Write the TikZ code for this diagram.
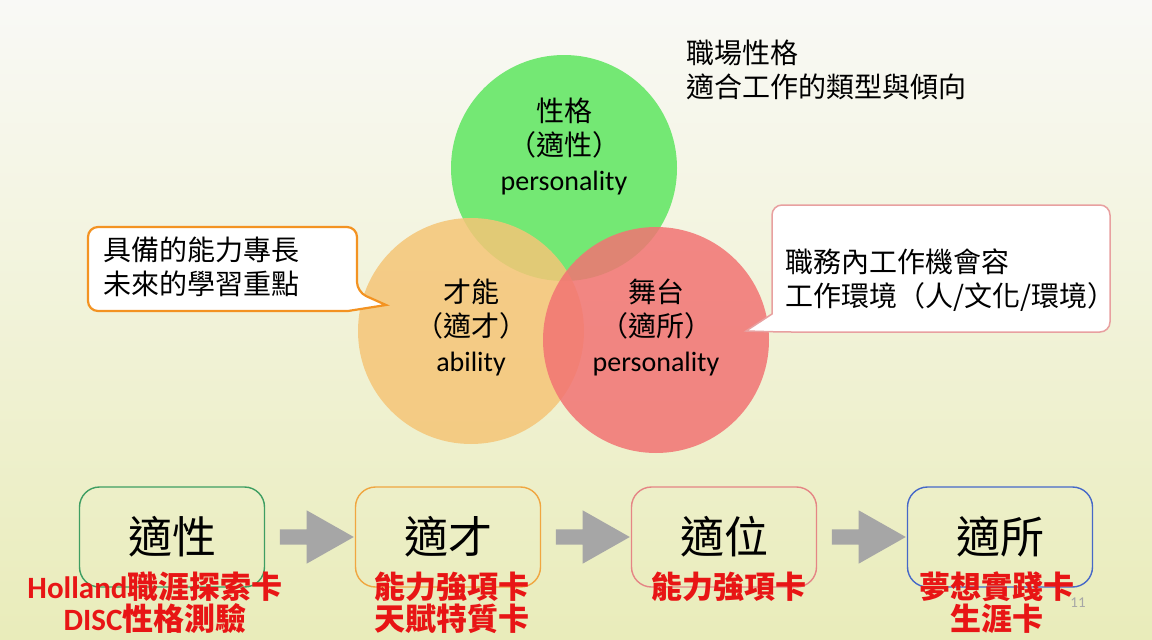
\documentclass[tikz,border=0pt]{standalone}
\usepackage{fontspec}
\setmainfont{Carlito}
\newfontfamily\cjk{Noto Sans CJK TC}
\usetikzlibrary{positioning,calc,shapes.arrows}
\definecolor{bgtop}{HTML}{F9F9F6}
\definecolor{bgmid}{HTML}{F4F4EA}
\definecolor{bgbot}{HTML}{E9ECBA}
\definecolor{ballgreen}{HTML}{74E874}
\definecolor{ballorange}{HTML}{F5C577}
\definecolor{ballred}{HTML}{F27373}
\definecolor{noteorange}{HTML}{F39322}
\definecolor{notered}{HTML}{E8A0A0}
\definecolor{boxgreen}{HTML}{3E9E62}
\definecolor{boxorange}{HTML}{F0A640}
\definecolor{boxred}{HTML}{E58585}
\definecolor{boxblue}{HTML}{4668C8}
\definecolor{cardred}{HTML}{E81515}
\definecolor{arrowgray}{HTML}{A6A6A6}

\begin{document}
\begin{tikzpicture}[x=1pt,y=-1pt,
  ball/.style={circle, minimum size=226pt, inner sep=0pt},
  ctext/.style={align=center, text opacity=1, font=\fontsize{28}{34.5}\selectfont},
  note/.style={align=left, anchor=west, font=\cjk\fontsize{28}{34}\selectfont},
  stagebox/.style={draw, rounded corners=20pt, minimum width=185pt, minimum height=100pt, line width=1.4pt, font=\cjk\fontsize{44}{50}\selectfont},
  cards/.style={align=center, text=cardred, font=\bfseries\fontsize{31}{32}\selectfont},
  flowarrow/.style={single arrow, fill=arrowgray, minimum height=74pt, inner sep=7.5pt, single arrow head extend=19pt, single arrow tip angle=59},
  node distance=276pt, on grid]
  \useasboundingbox (0,0) rectangle (1152,640);
  \shade[top color=bgtop, middle color=bgmid, bottom color=bgbot] (0,0) rectangle (1152,640);

  \node[ball, fill=ballgreen] (trait) at (564,168) {};
  \node[ball, fill=ballorange, fill opacity=0.85] (talent) at (471,331) {};
  \node[ball, fill=ballred, fill opacity=0.85] (stage) at (656,340) {};
  \node[ctext] (traittxt) at (564,146) {{\cjk 性格}\\{\cjk （適性）}\\personality};
  \node[ctext] (talenttxt) at (471,327) {{\cjk 才能}\\{\cjk （適才）}\\ability};
  \node[ctext] (stagetxt) at (656,327) {{\cjk 舞台}\\{\cjk （適所）}\\personality};

  \node[note] (traitnote) at (683,70) {職場性格\\適合工作的類型與傾向};
  \draw[draw=noteorange, fill=white, line width=2.2pt] (88,269) [rounded corners=10pt] -- (88,227) -- (357,227) -- (357,292) [sharp corners] -- (386,305) -- (348,311) [rounded corners=10pt] -- (88,311) -- cycle;
  \node[note] (talentnote) at (100,267) {具備的能力專長\\未來的學習重點};
  \draw[draw=notered, fill=white, line width=1.5pt] (941,205) [rounded corners=10pt] -- (1110,205) -- (1110,332) -- (782,332) [sharp corners] -- (746,331) -- (772,314) [rounded corners=10pt] -- (772,205) -- cycle;
  \node[note] (stagenote) at (782,280) {職務內工作機會容\\工作環境（人/文化/環境）};

  \node[stagebox, draw=boxgreen] (b1) at (172,537) {適性};
  \node[stagebox, draw=boxorange, right=of b1] (b2) {適才};
  \node[stagebox, draw=boxred, right=of b2] (b3) {適位};
  \node[stagebox, draw=boxblue, right=of b3] (b4) {適所};
  \node[flowarrow] (a1) at ($(b1)!0.5!(b2)$) {};
  \node[flowarrow] (a2) at ($(b2)!0.5!(b3)$) {};
  \node[flowarrow] (a3) at ($(b3)!0.5!(b4)$) {};

  \node[cards] (c1) at (155,603) {Holland{\cjk 職涯探索卡}\\DISC{\cjk 性格測驗}};
  \node[cards] (c2) at (452,603) {{\cjk 能力強項卡}\\{\cjk 天賦特質卡}};
  \node[cards] (c3) at (729,587) {\cjk 能力強項卡};
  \node[cards] (c4) at (997,603) {{\cjk 夢想實踐卡}\\{\cjk 生涯卡}};
  \node[text=arrowgray, font=\fontsize{15}{18}\selectfont] (pnum) at (1078,603) {11};
\end{tikzpicture}
\end{document}
